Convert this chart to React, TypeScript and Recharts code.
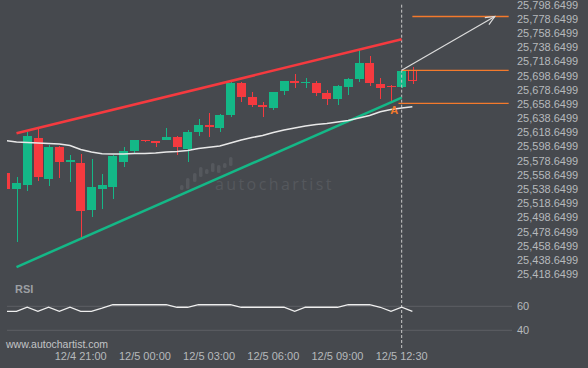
import { Bar, ComposedChart, Line, ReferenceDot, ReferenceLine, XAxis, YAxis } from 'recharts';

// 30 minute candles, index 0 = 12/4 17:30
const opens = [
  25561.9, 25538.9, 25544.9, 25610.8, 25553.0, 25598.5, 25577.6, 25575.5, 25509.7, 25538.9,
  25542.1, 25577.4, 25592.4, 25607.9, 25606.5, 25608.4, 25612.2, 25595.3, 25619.2, 25629.1,
  25624.9, 25643.2, 25688.3, 25668.6, 25657.3, 25653.1, 25677.0, 25691.1, 25689.3, 25688.3,
  25674.2, 25665.7, 25682.7, 25693.9, 25716.5, 25686.9, 25684.1, 25682.7, 25706.6,
];
const highs = [
  25562.8, 25555.8, 25619.2, 25623.0, 25600.9, 25599.5, 25586.8, 25588.2, 25580.7, 25560.0,
  25586.8, 25598.1, 25608.6, 25608.6, 25607.2, 25624.9, 25612.9, 25622.0, 25637.5, 25646.0,
  25643.9, 25689.0, 25689.0, 25675.6, 25661.5, 25676.3, 25691.8, 25701.0, 25695.3, 25691.1,
  25678.4, 25684.8, 25695.3, 25734.8, 25726.3, 25695.3, 25684.8, 25705.9, 25710.8,
];
const lows = [
  25537.5, 25464.2, 25536.1, 25549.7, 25543.1, 25554.4, 25549.2, 25470.2, 25499.8, 25510.7,
  25524.8, 25570.3, 25590.0, 25605.8, 25598.1, 25607.9, 25587.2, 25577.4, 25613.6, 25612.2,
  25619.2, 25640.8, 25661.5, 25654.5, 25640.4, 25650.2, 25671.8, 25681.2, 25681.2, 25670.0,
  25657.3, 25657.3, 25671.4, 25689.0, 25684.1, 25665.7, 25662.9, 25681.9, 25686.9,
];
const closes = [
  25538.9, 25547.3, 25613.6, 25556.2, 25598.5, 25577.4, 25579.1, 25508.3, 25541.7, 25544.5,
  25585.4, 25592.4, 25607.9, 25606.5, 25603.7, 25612.2, 25598.1, 25619.2, 25629.1, 25626.3,
  25643.2, 25688.3, 25668.6, 25657.3, 25654.5, 25675.6, 25691.1, 25688.3, 25690.1, 25674.2,
  25665.7, 25684.1, 25693.9, 25716.5, 25688.3, 25681.2, 25682.7, 25705.2, 25692.5,
];
const maValues = [
  25607.2, 25605.1, 25604.4, 25603.7, 25603.0, 25602.3, 25600.2, 25594.6, 25591.0, 25588.6,
  25588.2, 25588.2, 25588.9, 25588.9, 25589.6, 25591.0, 25591.7, 25593.1, 25596.0, 25597.7,
  25599.5, 25603.7, 25607.9, 25611.5, 25614.3, 25618.5, 25622.0, 25624.9, 25627.7, 25629.8,
  25631.2, 25633.3, 25635.4, 25639.0, 25642.5, 25647.8, 25650.9, 25653.1, 25654.9,
];
const rsiValues = [
  55.8, 55.8, 59.2, 55.8, 59.2, 55.8, 59.2, 55.8, 55.8, 58.4,
  61.3, 61.3, 61.3, 61.3, 61.3, 61.3, 59.2, 59.2, 61.3, 61.3,
  61.3, 61.3, 59.2, 59.2, 59.2, 59.2, 59.2, 55.8, 59.2, 59.2,
  59.2, 59.2, 61.3, 61.3, 61.3, 59.2, 55.8, 59.2, 55.8,
];

const priceTicks = [
  25418.6499, 25438.6499, 25458.6499, 25478.6499, 25498.6499, 25518.6499, 25538.6499,
  25558.6499, 25578.6499, 25598.6499, 25618.6499, 25638.6499, 25658.6499, 25678.6499,
  25698.6499, 25718.6499, 25738.6499, 25758.6499, 25778.6499, 25798.6499,
];
const rsiTicks = [40, 60];
const timeTicks = [7, 13, 19, 25, 31, 37];
const timeLabels = ['12/4 21:00', '12/5 00:00', '12/5 03:00', '12/5 06:00', '12/5 09:00', '12/5 12:30'];

// pattern (rising wedge) and forecast levels
const resistance = [{ x: 1, y: 25617.4 }, { x: 37, y: 25749.9 }];
const support = [{ x: 1, y: 25428.9 }, { x: 37, y: 25667.6 }];
const targetLevel = 25782.0;
const breakoutLevel = 25706.2;
const lowerLevel = 25659.7;
const patternEnd = 37;

const BG = '#46494e';
const GREEN = '#14b887';
const RED = '#f53a3f';
const ORANGE = '#f47a2c';
const TEXT = '#b6b9bc';

const candles = opens.map((o, i) => ({
  idx: i,
  open: o,
  high: highs[i],
  low: lows[i],
  close: closes[i],
  ma: maValues[i],
}));
const rsiData = rsiValues.map((v, i) => ({ idx: i, rsi: v }));

const xDomain: [number, number] = [0.112, 47.31];

const Candle = (props: any) => {
  const { x, y, width, height, payload, index } = props;
  const { open, high, low, close } = payload;
  const color = close >= open ? GREEN : RED;
  const ratio = height / (high - low);
  const yo = y + (high - open) * ratio;
  const yc = y + (high - close) * ratio;
  const top = Math.min(yo, yc);
  const h = Math.max(1, Math.abs(yo - yc));
  const cx = Math.round(x + width / 2) + 0.5;
  const hollow = index === opens.length - 1;
  return (
    <g shapeRendering="crispEdges">
      <line x1={cx} x2={cx} y1={y} y2={y + height} stroke={color} strokeWidth={1} />
      {hollow ? (
        <rect x={x + 0.5} y={top} width={width - 1} height={h} fill="none" stroke={color} strokeWidth={1} />
      ) : (
        <rect x={x} y={top} width={width} height={h} fill={color} />
      )}
    </g>
  );
};

const Arrow = (props: any) => {
  const { x1, y1, x2, y2 } = props;
  const ang = Math.atan2(y2 - y1, x2 - x1);
  const len = 10;
  const ax = x2 - len * Math.cos(ang - 0.42);
  const ay = y2 - len * Math.sin(ang - 0.42);
  const bx = x2 - len * Math.cos(ang + 0.42);
  const by = y2 - len * Math.sin(ang + 0.42);
  return (
    <g>
      <line x1={x1} y1={y1} x2={x2} y2={y2} stroke="#dcdcdc" strokeWidth={1.2} />
      <polyline points={`${ax},${ay} ${x2},${y2} ${bx},${by}`} fill="none" stroke="#dcdcdc" strokeWidth={1.2} />
    </g>
  );
};

const fmtPrice = (v: number) =>
  v.toLocaleString('en-US', { minimumFractionDigits: 4, maximumFractionDigits: 4 });

const logoBars = [
  [180, 185, 190], [186, 178, 189], [193, 173, 182], [199, 167, 177], [205, 169, 174],
  [211, 163, 172], [217, 165, 173], [223, 163, 168], [229, 157, 166],
];

export default function App() {
  return (
    <div
      style={{
        position: 'absolute',
        left: 0,
        top: 0,
        width: 588,
        height: 368,
        background: BG,
        overflow: 'hidden',
        fontFamily: '"Liberation Sans", Arial, sans-serif',
      }}
    >
      <svg width={588} height={368} style={{ position: 'absolute', left: 0, top: 0 }}>
        {logoBars.map(([x, t, b], i) => (
          <rect key={i} x={x} y={t} width={3.5} height={b - t} rx={1.5} fill="#55585d" />
        ))}
        <text x={215} y={190} fontSize={16} fill="#55585d" letterSpacing={2.4} fontFamily='"Open Sans", sans-serif'>
          autochartist
        </text>
      </svg>

      <div style={{ position: 'absolute', left: 0, top: 0 }}>
        <ComposedChart width={588} height={285} data={candles} margin={{ top: 0, right: 0, left: 7, bottom: 0 }}>
          <XAxis dataKey="idx" type="number" domain={xDomain} allowDataOverflow hide />
          <YAxis
            orientation="right"
            width={76}
            domain={[25403.57, 25805.27]}
            allowDataOverflow
            ticks={priceTicks}
            tickFormatter={fmtPrice}
            axisLine={false}
            tickLine={false}
            tickSize={0}
            tickMargin={5}
            tick={{ fill: TEXT, fontSize: 11 }}
            interval={0}
          />
          <ReferenceLine
            segment={[{ x: patternEnd, y: 25798.65 }, { x: patternEnd, y: 25403.57 }]}
            stroke="#c9c9c9"
            strokeDasharray="3 2"
          />
          <ReferenceLine segment={support} stroke={GREEN} strokeWidth={2.5} ifOverflow="visible" />
          <ReferenceLine segment={resistance} stroke={RED} strokeWidth={2.5} ifOverflow="visible" />
          <Line dataKey="ma" stroke="#e8e8e8" strokeWidth={1.6} dot={false} isAnimationActive={false} />
          <Bar dataKey={(d: any) => [d.low, d.high]} barSize={9} shape={Candle} isAnimationActive={false} />
          <ReferenceLine segment={[{ x: 38, y: targetLevel }, { x: 47, y: targetLevel }]} stroke={ORANGE} strokeWidth={1.3} />
          <ReferenceLine segment={[{ x: patternEnd, y: breakoutLevel }, { x: 47, y: breakoutLevel }]} stroke={ORANGE} strokeWidth={1.3} />
          <ReferenceLine segment={[{ x: 36.7, y: lowerLevel }, { x: 47, y: lowerLevel }]} stroke={ORANGE} strokeWidth={1.3} />
          <ReferenceLine
            segment={[{ x: patternEnd, y: breakoutLevel }, { x: 45.7, y: targetLevel }]}
            shape={Arrow}
          />
          <ReferenceDot
            x={36.3}
            y={25650.9}
            r={0}
            shape={(p: any) => (
              <text x={p.cx} y={p.cy + 4} textAnchor="middle" fontSize={11} fontWeight="bold" fill={ORANGE}>
                A
              </text>
            )}
          />
        </ComposedChart>
      </div>

      <div style={{ position: 'absolute', left: 0, top: 285 }}>
        <ComposedChart width={588} height={83} data={rsiData} margin={{ top: 0, right: 0, left: 7, bottom: 0 }}>
          <XAxis
            dataKey="idx"
            type="number"
            domain={xDomain}
            allowDataOverflow
            ticks={timeTicks}
            tickFormatter={(v: number) => timeLabels[timeTicks.indexOf(v)] ?? ''}
            axisLine={false}
            tickLine={false}
            tickSize={0}
            tickMargin={4}
            height={20}
            tick={{ fill: TEXT, fontSize: 11 }}
            interval={0}
          />
          <YAxis
            orientation="right"
            width={76}
            domain={[25.25, 77.75]}
            allowDataOverflow
            ticks={rsiTicks}
            axisLine={false}
            tickLine={false}
            tickSize={0}
            tickMargin={5}
            tick={{ fill: TEXT, fontSize: 11 }}
          />
          <ReferenceLine y={60} stroke="#5d6065" />
          <ReferenceLine y={40} stroke="#5d6065" />
          <ReferenceLine x={patternEnd} stroke="#c9c9c9" strokeDasharray="3 2" />
          <Line dataKey="rsi" stroke="#eeeeee" strokeWidth={1.3} dot={false} isAnimationActive={false} />
        </ComposedChart>
      </div>

      <div style={{ position: 'absolute', left: 15, top: 283, fontSize: 11, fontWeight: 'bold', color: '#9c9fa3' }}>RSI</div>
      <div style={{ position: 'absolute', left: 6, top: 338, fontSize: 10.5, color: '#c2c4c6' }}>www.autochartist.com</div>
    </div>
  );
}
